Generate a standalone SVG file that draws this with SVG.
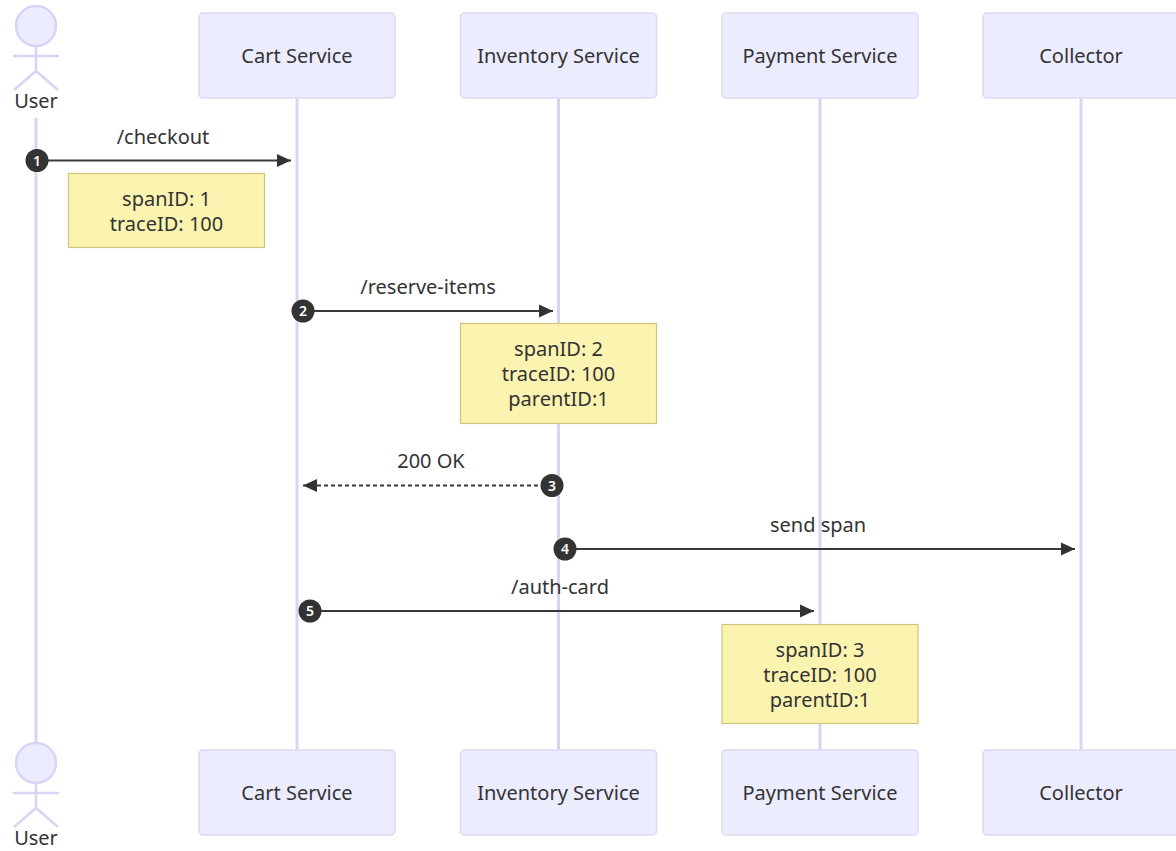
<svg xmlns="http://www.w3.org/2000/svg" width="1176" height="851" viewBox="0 0 1176 851">
<style>
text{font-family:"Noto Sans","Open Sans",sans-serif;font-size:20px;fill:#333;text-anchor:middle}
.box{fill:#ececff;stroke:#dcd8f6;stroke-width:1.5}
.life{stroke:#d8d4f5;stroke-width:3;fill:none}
.note{fill:#fbf3b0;stroke:#cfc679;stroke-width:1.2}
.msg{stroke:#3a3a3a;stroke-width:2;fill:none;marker-end:url(#a)}
.actor{fill:#ececff;stroke:#d8d4f5;stroke-width:2.500}
.num{fill:#333}
.numt{font-size:14px;font-weight:600;fill:#fff}
</style>
<defs><marker id="a" markerUnits="userSpaceOnUse" markerWidth="14" markerHeight="14" refX="14" refY="7" orient="auto"><path d="M0 .5L14 7L0 13.500z" fill="#333"/></marker></defs>
<g id="connectors">
<path class="life" d="M36 118V745M297 98V750M558.500 98V750M820 98V750M1081 98V750"/>
<path class="msg" d="M37 160.500H291"/><path class="msg" d="M303 311H553"/><path class="msg" stroke-dasharray="4 3" d="M552 485.500H303"/><path class="msg" d="M565 549H1075"/><path class="msg" d="M310 611H814"/>
</g>
<g id="user-top"><circle class="actor" cx="36" cy="26" r="20"/><path class="actor" fill="none" d="M36 46V71M13 56H59M36 71L14 90M36 71L58 90"/><text x="36" y="108">User</text></g>
<g id="cart-top"><rect class="box" x="199" y="13" width="196" height="85" rx="4"/><text x="297" y="63">Cart Service</text></g>
<g id="inventory-top"><rect class="box" x="460.500" y="13" width="196" height="85" rx="4"/><text x="558.500" y="63">Inventory Service</text></g>
<g id="payment-top"><rect class="box" x="722" y="13" width="196" height="85" rx="4"/><text x="820" y="63">Payment Service</text></g>
<g id="collector-top"><rect class="box" x="983" y="13" width="196" height="85" rx="4"/><text x="1081" y="63">Collector</text></g>
<g id="user-bottom"><circle class="actor" cx="36" cy="763" r="20"/><path class="actor" fill="none" d="M36 783V808M13 793H59M36 808L14 827M36 808L58 827"/><text x="36" y="845">User</text></g>
<g id="cart-bottom"><rect class="box" x="199" y="750" width="196" height="85" rx="4"/><text x="297" y="800">Cart Service</text></g>
<g id="inventory-bottom"><rect class="box" x="460.500" y="750" width="196" height="85" rx="4"/><text x="558.500" y="800">Inventory Service</text></g>
<g id="payment-bottom"><rect class="box" x="722" y="750" width="196" height="85" rx="4"/><text x="820" y="800">Payment Service</text></g>
<g id="collector-bottom"><rect class="box" x="983" y="750" width="196" height="85" rx="4"/><text x="1081" y="800">Collector</text></g>
<g id="note-1"><rect class="note" x="68.500" y="173.500" width="196" height="74"/><text x="166.500" y="206">spanID: 1</text><text x="166.500" y="231">traceID: 100</text></g>
<g id="note-2"><rect class="note" x="460.500" y="323.500" width="196" height="100"/><text x="558.500" y="356">spanID: 2</text><text x="558.500" y="381">traceID: 100</text><text x="558.500" y="406">parentID:1</text></g>
<g id="note-3"><rect class="note" x="722" y="624.500" width="196" height="99"/><text x="820" y="657">spanID: 3</text><text x="820" y="682">traceID: 100</text><text x="820" y="707">parentID:1</text></g>
<g id="labels"><text x="163" y="144">/checkout</text><text x="428" y="294">/reserve-items</text><text x="431" y="468">200 OK</text><text x="818" y="532">send span</text><text x="560" y="594">/auth-card</text></g>
<g id="numbers"><circle class="num" cx="37" cy="160.500" r="11.500"/><text class="numt" x="37" y="165.500">1</text><circle class="num" cx="303" cy="311" r="11.500"/><text class="numt" x="303" y="316">2</text><circle class="num" cx="552" cy="485.500" r="11.500"/><text class="numt" x="552" y="490.500">3</text><circle class="num" cx="565" cy="549" r="11.500"/><text class="numt" x="565" y="554">4</text><circle class="num" cx="310" cy="611" r="11.500"/><text class="numt" x="310" y="616">5</text></g>
</svg>
